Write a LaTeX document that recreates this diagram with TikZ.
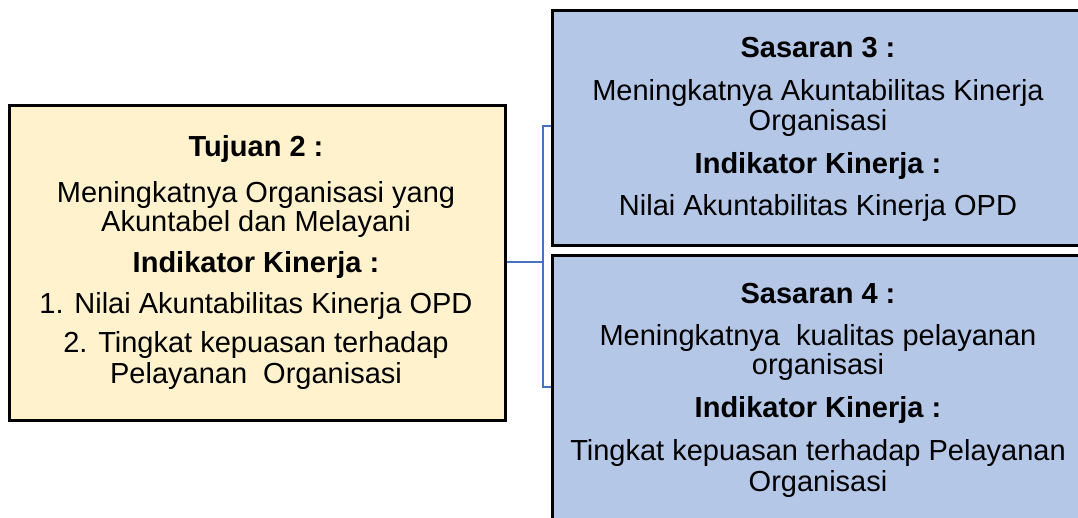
\documentclass[tikz,border=0pt]{standalone}
\usepackage{fontspec}
\setmainfont{Liberation Sans}
\definecolor{tujfill}{HTML}{FFF2CC}
\definecolor{sasfill}{HTML}{B4C7E7}
\definecolor{connblue}{HTML}{4472C4}
\begin{document}
\begin{tikzpicture}[x=1pt,y=-1pt,
  box/.style={draw=black,line width=2.5pt,inner sep=0pt,anchor=north west},
  ln/.style={anchor=base,inner sep=0pt,font=\fontsize{29}{31}\selectfont},
  hd/.style={ln,font=\fontsize{29}{31}\selectfont\bfseries},
  conn/.style={draw=connblue,line width=1.7pt}]
\useasboundingbox (0,0) rectangle (1078,517);
\clip (0,0) rectangle (1078,517);
% boxes
\node[box,fill=tujfill,minimum width=496pt,minimum height=315pt] (tuj) at (8,104) {};
\node[box,fill=sasfill,minimum width=540pt,minimum height=235pt] (s3) at (551,9) {};
\node[box,fill=sasfill,minimum width=540pt,minimum height=280pt] (s4) at (551,254) {};
% connectors
\coordinate (j) at (543,262);
\draw[conn] (tuj.east |- j) -- (j);
\draw[conn] (s3.west |- 0,126) -| (j) |- (s4.west |- 0,387);
% left text
\node[hd] (t1) at (256,156) {Tujuan 2 :};
\node[ln] (t2) at (256,202) {Meningkatnya Organisasi yang};
\node[ln] (t3) at (256,231) {Akuntabel dan Melayani};
\node[hd] (t4) at (256,272) {Indikator Kinerja :};
\node[ln] (t5) at (256,313) {1. Nilai Akuntabilitas Kinerja OPD};
\node[ln] (t6) at (256,352) {2. Tingkat kepuasan terhadap};
\node[ln] (t7) at (256,383) {Pelayanan~ Organisasi};
% right top text
\node[hd] (a1) at (818,57) {Sasaran 3 :};
\node[ln] (a2) at (818,100) {Meningkatnya Akuntabilitas Kinerja};
\node[ln] (a3) at (818,130) {Organisasi};
\node[hd] (a4) at (818,173) {Indikator Kinerja :};
\node[ln] (a5) at (818,215) {Nilai Akuntabilitas Kinerja OPD};
% right bottom text
\node[hd] (b1) at (818,303) {Sasaran 4 :};
\node[ln] (b2) at (818,345) {Meningkatnya~ kualitas pelayanan};
\node[ln] (b3) at (818,374) {organisasi};
\node[hd] (b4) at (818,417) {Indikator Kinerja :};
\node[ln] (b5) at (818,460) {Tingkat kepuasan terhadap Pelayanan};
\node[ln] (b6) at (818,491) {Organisasi};
\end{tikzpicture}
\end{document}
